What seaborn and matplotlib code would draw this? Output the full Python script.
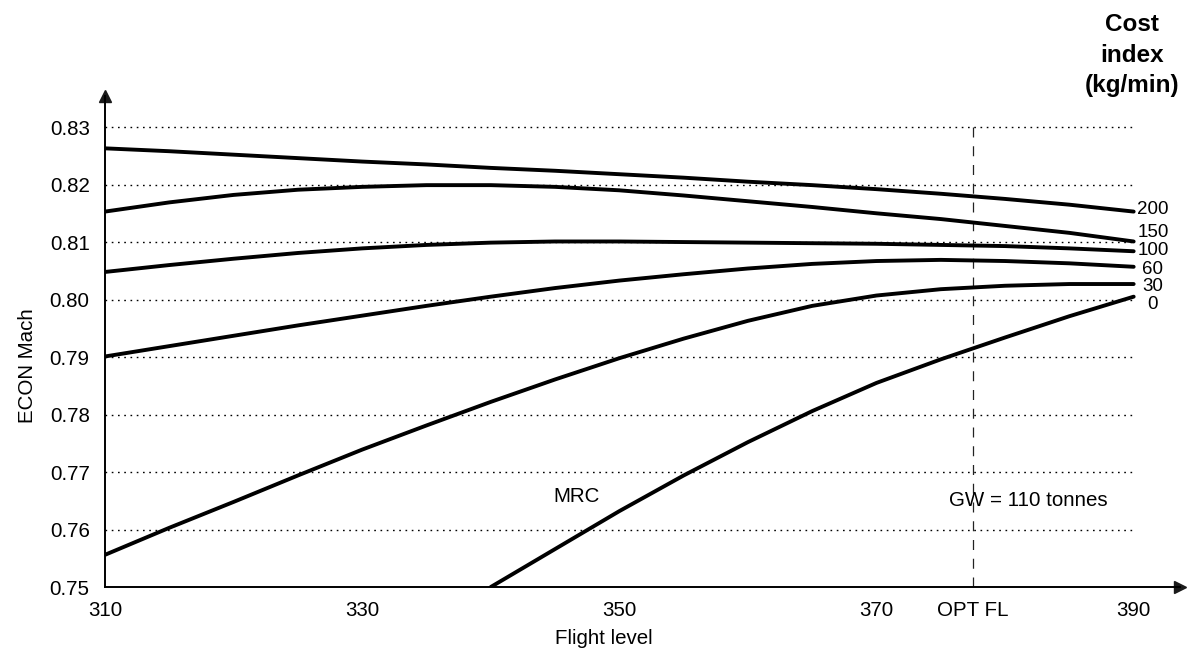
import pandas as pd
import matplotlib
matplotlib.use("Agg")
import matplotlib.pyplot as plt
import seaborn as sns

# ECON Mach vs flight level, one curve per cost index (kg/min)
cost_index = [0, 30, 60, 100, 150, 200]

fl_full = [310, 315, 320, 325, 330, 335, 340, 345, 350, 355, 360, 365, 370, 375, 380, 385, 390]
fl_ci0 = [340, 345, 350, 355, 360, 365, 370, 375, 380, 385, 390]

mach_ci0 = [0.7500, 0.7566, 0.7632, 0.7694, 0.7752, 0.7806, 0.7855, 0.7896, 0.7934, 0.7971, 0.8005]
mach_ci30 = [0.7556, 0.7603, 0.7648, 0.7694, 0.7739, 0.7781, 0.7822, 0.7861, 0.7898,
             0.7932, 0.7963, 0.7989, 0.8007, 0.8018, 0.8024, 0.8027, 0.8027]
mach_ci60 = [0.7901, 0.7919, 0.7937, 0.7955, 0.7972, 0.7989, 0.8005, 0.8020, 0.8033,
             0.8044, 0.8054, 0.8062, 0.8067, 0.8069, 0.8067, 0.8063, 0.8057]
mach_ci100 = [0.8048, 0.8060, 0.8071, 0.8081, 0.8089, 0.8095, 0.8099, 0.8101, 0.8101,
              0.8100, 0.8099, 0.8098, 0.8097, 0.8095, 0.8093, 0.8089, 0.8084]
mach_ci150 = [0.8153, 0.8169, 0.8182, 0.8191, 0.8196, 0.8199, 0.8199, 0.8196, 0.8190,
              0.8181, 0.8171, 0.8161, 0.8150, 0.8140, 0.8128, 0.8116, 0.8101]
mach_ci200 = [0.8263, 0.8258, 0.8252, 0.8246, 0.8240, 0.8235, 0.8229, 0.8224, 0.8218,
              0.8212, 0.8205, 0.8199, 0.8192, 0.8184, 0.8175, 0.8165, 0.8153]

y_ticks = [0.75, 0.76, 0.77, 0.78, 0.79, 0.80, 0.81, 0.82, 0.83]
x_ticks = [310, 330, 350, 370, 377.5, 390]
x_tick_labels = ["310", "330", "350", "370", "OPT FL", "390"]
opt_fl = 377.5


def main():
    curves = {
        0: (fl_ci0, mach_ci0),
        30: (fl_full, mach_ci30),
        60: (fl_full, mach_ci60),
        100: (fl_full, mach_ci100),
        150: (fl_full, mach_ci150),
        200: (fl_full, mach_ci200),
    }
    rows = []
    for ci in cost_index:
        xs, ys = curves[ci]
        for x, y in zip(xs, ys):
            rows.append({"fl": x, "mach": y, "ci": ci})
    df = pd.DataFrame(rows)

    sns.set_theme(style="white")
    plt.rcParams["font.family"] = ["Liberation Sans", "DejaVu Sans"]
    plt.rcParams["text.color"] = "black"
    plt.rcParams["axes.labelcolor"] = "black"

    fig = plt.figure(figsize=(11.92, 6.55), dpi=100)
    ax = fig.add_axes([0.0881, 0.1038, 0.9018, 0.7496])

    # dotted grid only between the first and last flight level
    ax.hlines(y_ticks[1:], 310, 390, colors="black", linestyles=(0, (1.2, 3.3)), linewidth=1.0, zorder=1)
    ax.vlines(opt_fl, 0.75, 0.83, colors="#222222", linestyles=(0, (8, 7)), linewidth=0.9, zorder=1)

    sns.lineplot(data=df, x="fl", y="mach", units="ci", estimator=None,
                 color="black", linewidth=2.8, ax=ax, legend=False, zorder=3)

    ax.set_xlim(310, 393.6)
    ax.set_ylim(0.75, 0.8354)

    ax.set_xticks(x_ticks)
    ax.set_xticklabels(x_tick_labels)
    ax.set_yticks(y_ticks)
    ax.set_yticklabels([f"{v:.2f}" for v in y_ticks])
    ax.tick_params(axis="x", direction="inout", length=6, width=0.9, labelsize=14.8, pad=7, colors="black")
    ax.tick_params(axis="y", direction="inout", length=6, width=0.9, labelsize=14.8, pad=8, colors="black")

    ax.set_xlabel("Flight level", fontsize=14.8, va="top")
    ax.xaxis.set_label_coords(0.464, -0.086)
    ax.set_ylabel("ECON Mach", fontsize=14.8)
    ax.yaxis.set_label_coords(-0.063, 0.45)

    for side in ["top", "right"]:
        ax.spines[side].set_visible(False)
    for side in ["left", "bottom"]:
        ax.spines[side].set_color("black")
        ax.spines[side].set_linewidth(1.4)
    ax.plot(1, 0, ">k", markersize=9, transform=ax.transAxes, clip_on=False)
    ax.plot(0, 1, "^k", markersize=9, transform=ax.transAxes, clip_on=False)

    # cost index labels at the right end of each curve
    label_shift = {0: -0.0013, 30: -0.0004, 60: -0.0004, 100: 0.0001, 150: 0.0016, 200: 0.0004}
    for ci in cost_index:
        xs, ys = curves[ci]
        ax.text(391.5, ys[-1] + label_shift[ci], str(ci), ha="center", va="center",
                fontsize=13.5, clip_on=False)

    ax.text(346.7, 0.7658, "MRC", ha="center", va="center", fontsize=14.8)
    ax.text(381.8, 0.7650, "GW = 110 tonnes", ha="center", va="center", fontsize=14.8)

    fig.text(0.9497, 0.916, "Cost\nindex\n(kg/min)", ha="center", va="center",
             fontsize=17.5, fontweight="bold", linespacing=1.42)

    fig.savefig("out.png", dpi=100)
    plt.close(fig)


if __name__ == "__main__":
    main()
